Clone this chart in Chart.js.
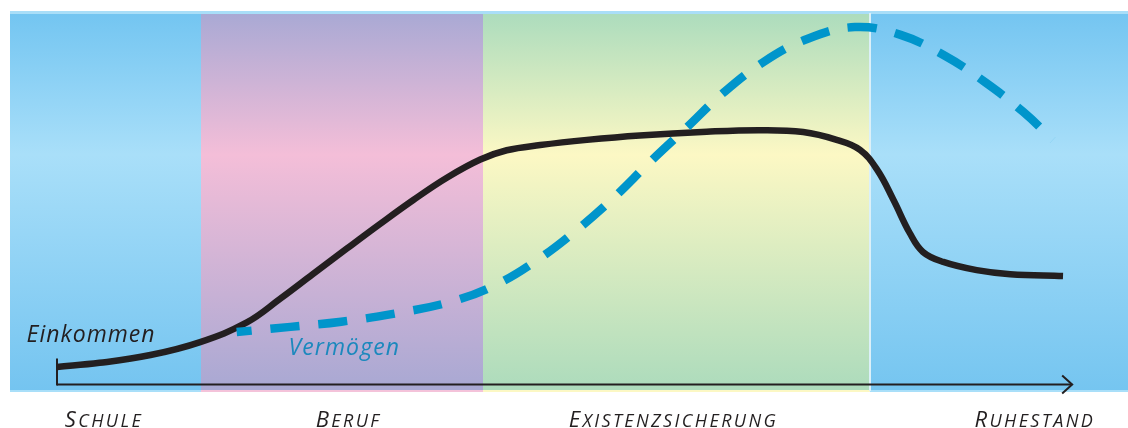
<!DOCTYPE html>
<html>
<head>
<meta charset="utf-8">
<script src="https://cdn.jsdelivr.net/npm/chart.js@4/dist/chart.umd.min.js"></script>
<style>
  html, body { margin: 0; padding: 0; background: #ffffff; }
  #wrap { width: 1128px; height: 428px; }
</style>
</head>
<body>
<div id="wrap"><canvas id="c" width="1128" height="428"></canvas></div>
<script>
// ---- data (x: life course 0..100 along the arrow, y: relative level 0..100) ----
const phaseNames = ["Schule", "Beruf", "Existenzsicherung", "Ruhestand"];
const phaseEdges = [-4.63, 14.2, 42.0, 80.1, 105.5];
const phaseLabelAt = [4.5, 28.6, 60.6, 96.2];

const einkommenX = [0, 4.2, 9.2, 14.1, 18.7, 22.0, 25.2, 28.6, 31.8, 35.1, 38.4, 41.7, 44.3, 47.6, 52.2, 57.4, 64.0, 69.3, 73.5, 76.8, 79.1, 80.8, 82.4, 84.0, 85.3, 87.3, 90.6, 93.9, 99.1];
const einkommenY = [4.6, 5.7, 7.8, 11.3, 16.6, 23.0, 29.6, 36.6, 43.1, 49.6, 55.6, 60.5, 63.0, 64.4, 65.8, 67.0, 68.0, 68.4, 67.9, 65.8, 63.1, 57.7, 49.6, 40.7, 35.6, 32.9, 30.7, 29.6, 29.1];

const vermoegenX = [17.7, 23.0, 28.0, 33.1, 38.7, 43.2, 47.3, 51.2, 54.8, 58.4, 62.1, 65.6, 69.6, 73.9, 78.6, 83.1, 87.5, 91.4, 95.2, 98.1];
const vermoegenY = [14.0, 15.4, 16.8, 18.9, 22.1, 26.7, 33.4, 41.5, 50.1, 59.8, 69.3, 78.4, 86.8, 93.0, 96.2, 94.1, 88.4, 81.4, 73.3, 65.8];

const seriesLabels = ["Einkommen", "Vermögen"];
const seriesLabelPos = [[-3.0, 11.3], [22.8, 7.8]];

// ---- styles ----
const bandColors = [
  ["#73c5f1", "#a9dff9", "#74c4f0"],
  ["#a9a9d4", "#f4bed8", "#a8a8d3"],
  ["#acdcbd", "#fcf8c4", "#acdbbc"],
  ["#74c5f1", "#a9dff9", "#75c5f0"]
];
const bandStripColors = ["#a9dff9", "#f4c3da", "#fcf8c4", "#a9dff9"];
const INK = "#231f20";
const BLUE = "#0095cb";
const FONT = '"Open Sans", "DejaVu Sans", sans-serif';

const toPts = (xs, ys) => xs.map((x, i) => ({ x: x, y: ys[i] }));

function setSpacing(ctx, v) { try { ctx.letterSpacing = v + "px"; } catch (e) {} }

// small caps: first letter full size, rest as smaller capitals
function drawSmallCaps(ctx, text, cx, baseline, big, small, spacing) {
  const first = text.charAt(0).toUpperCase();
  const rest = text.slice(1).toUpperCase();
  setSpacing(ctx, spacing);
  ctx.font = "italic " + big + "px " + FONT;
  const w1 = ctx.measureText(first).width;
  ctx.font = "italic " + small + "px " + FONT;
  const w2 = ctx.measureText(rest).width;
  const x = cx - (w1 + w2 - spacing) / 2;
  ctx.textAlign = "left";
  ctx.font = "italic " + big + "px " + FONT;
  ctx.fillText(first, x, baseline);
  ctx.font = "italic " + small + "px " + FONT;
  ctx.fillText(rest, x + w1, baseline);
  setSpacing(ctx, 0);
}

const backdrop = {
  id: "backdrop",
  beforeDraw(chart) {
    const ctx = chart.ctx, ca = chart.chartArea, xs = chart.scales.x;
    ctx.save();
    ctx.fillStyle = "#ffffff";
    ctx.fillRect(0, 0, chart.width, chart.height);
    for (let i = 0; i < phaseNames.length; i++) {
      const x0 = Math.round(xs.getPixelForValue(phaseEdges[i]));
      const x1 = Math.round(xs.getPixelForValue(phaseEdges[i + 1]));
      const g = ctx.createLinearGradient(0, ca.top, 0, ca.bottom);
      g.addColorStop(0, bandColors[i][0]);
      g.addColorStop(0.375, bandColors[i][1]);
      g.addColorStop(1, bandColors[i][2]);
      ctx.fillStyle = g;
      ctx.fillRect(x0, ca.top, x1 - x0, ca.bottom - ca.top);
      ctx.fillStyle = bandStripColors[i];
      ctx.fillRect(x0, ca.bottom - 1, x1 - x0, 2);
    }
    ctx.fillStyle = "#a9def8";
    ctx.fillRect(ca.left, ca.top - 2, ca.right - ca.left, 3);
    const xd = Math.round(xs.getPixelForValue(phaseEdges[3]));
    ctx.fillStyle = "#dcf0f8";
    ctx.fillRect(xd - 1, ca.top, 2, ca.bottom - ca.top);
    ctx.restore();
  },
  beforeDatasetsDraw(chart) {
    const ctx = chart.ctx, xs = chart.scales.x, ys = chart.scales.y;
    const x0 = xs.getPixelForValue(0), x1 = xs.getPixelForValue(100);
    const y0 = Math.round(ys.getPixelForValue(0)) + 0.5;
    ctx.save();
    ctx.strokeStyle = INK;
    ctx.lineWidth = 2;
    ctx.beginPath();
    ctx.moveTo(x0, y0);
    ctx.lineTo(x1, y0);
    ctx.stroke();
    ctx.beginPath();
    ctx.moveTo(x0, y0 + 1);
    ctx.lineTo(x0, y0 - 26);
    ctx.stroke();
    ctx.beginPath();
    ctx.moveTo(x1 - 10, y0 - 9);
    ctx.lineTo(x1, y0);
    ctx.lineTo(x1 - 10, y0 + 9);
    ctx.stroke();
    ctx.restore();
  },
  afterDraw(chart) {
    const ctx = chart.ctx, xs = chart.scales.x, ys = chart.scales.y;
    ctx.save();
    ctx.textBaseline = "alphabetic";
    ctx.fillStyle = INK;
    phaseNames.forEach((n, i) => {
      drawSmallCaps(ctx, n, xs.getPixelForValue(phaseLabelAt[i]), 427, 22, 18, 2.4);
    });
    ctx.textAlign = "left";
    ctx.font = "italic 23px " + FONT;
    setSpacing(ctx, 1.0);
    ctx.fillStyle = INK;
    ctx.fillText(seriesLabels[0], xs.getPixelForValue(seriesLabelPos[0][0]), ys.getPixelForValue(seriesLabelPos[0][1]));
    setSpacing(ctx, 1.1);
    ctx.fillStyle = "#1b88bd";
    ctx.fillText(seriesLabels[1], xs.getPixelForValue(seriesLabelPos[1][0]), ys.getPixelForValue(seriesLabelPos[1][1]));
    setSpacing(ctx, 0);
    ctx.restore();
  }
};

new Chart(document.getElementById("c"), {
  type: "line",
  data: {
    datasets: [
      {
        label: seriesLabels[1],
        data: toPts(vermoegenX, vermoegenY),
        borderColor: BLUE,
        borderWidth: 8.5,
        borderDash: [29, 19],
        borderDashOffset: 14,
        borderCapStyle: "butt",
        tension: 0.4,
        pointRadius: 0,
        fill: false,
        order: 1
      },
      {
        label: seriesLabels[0],
        data: toPts(einkommenX, einkommenY),
        borderColor: INK,
        borderWidth: 6.5,
        borderCapStyle: "butt",
        tension: 0.4,
        pointRadius: 0,
        fill: false,
        order: 2
      }
    ]
  },
  options: {
    responsive: false,
    animation: false,
    events: [],
    layout: { padding: { left: 10, right: 0, top: 13, bottom: 37 } },
    plugins: { legend: { display: false }, tooltip: { enabled: false } },
    scales: {
      x: { type: "linear", min: -4.63, max: 105.5, display: false },
      y: { type: "linear", min: -1.89, max: 100, display: false }
    }
  },
  plugins: [backdrop]
});
</script>
</body>
</html>
